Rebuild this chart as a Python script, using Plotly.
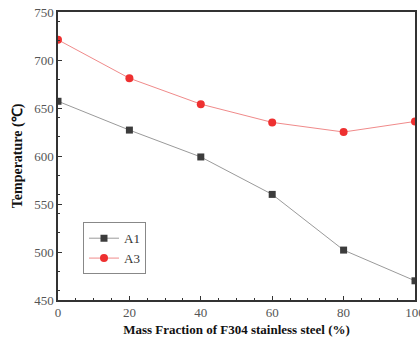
import plotly.graph_objects as go

x_vals = [0, 20, 40, 60, 80, 100]
a1_vals = [657, 627, 599, 560, 502, 470]
a3_vals = [721, 681, 654, 635, 625, 636]

font_fam = "Liberation Serif"

fig = go.Figure()
fig.add_trace(go.Scatter(x=x_vals, y=a1_vals, name="A1", mode="lines+markers",
                         line=dict(color="#9a9a9a", width=1),
                         marker=dict(symbol="square", size=7, color="#3c3c3c")))
fig.add_trace(go.Scatter(x=x_vals, y=a3_vals, name="A3", mode="lines+markers",
                         line=dict(color="#f08a8a", width=1),
                         marker=dict(symbol="circle", size=8, color="#ee3030")))

axis_common = dict(showline=True, linecolor="#333333", linewidth=1.5, mirror=True,
                   showgrid=False, zeroline=False, ticks="inside", ticklen=4,
                   tickcolor="#333333", ticklabeloverflow="allow", automargin=False,
                   tickfont=dict(family=font_fam, size=13, color="#555555"),
                   minor=dict(ticks="inside", ticklen=2, tickcolor="#333333"))

fig.update_layout(
    width=420, height=339,
    margin=dict(l=58, r=5, t=12, b=39, autoexpand=False),
    paper_bgcolor="white", plot_bgcolor="white",
    xaxis=dict(range=[0, 100], tickvals=[0, 20, 40, 60, 80, 100],
               title=dict(text="<b>Mass Fraction of F304 stainless steel (%)</b>",
                          font=dict(family=font_fam, size=13, color="#111111"), standoff=6),
               **axis_common),
    yaxis=dict(range=[450, 750], tickvals=[450, 500, 550, 600, 650, 700, 750],
               title=dict(text="<b>Temperature (℃)</b>",
                          font=dict(family=font_fam, size=14, color="#111111"), standoff=8),
               **axis_common),
    legend=dict(x=0.07, y=0.27, xanchor="left", yanchor="top",
                bordercolor="#888888", borderwidth=1, bgcolor="white",
                font=dict(family=font_fam, size=13, color="#333333"),
                tracegroupgap=0, itemwidth=30),
    showlegend=True,
)
fig.write_html("out.html")
